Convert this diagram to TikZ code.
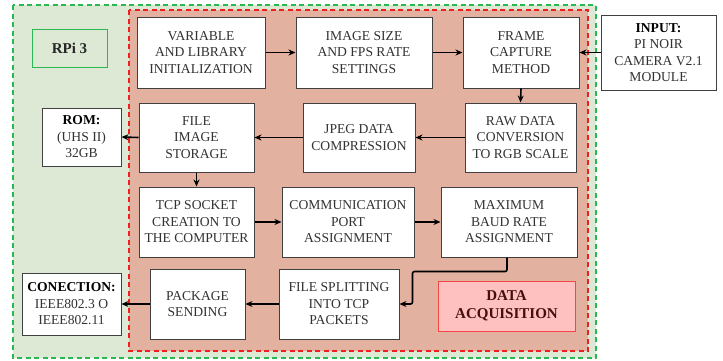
\documentclass[tikz,border=0pt]{standalone}
\usepackage{fontspec}
\setmainfont{Liberation Serif}
\usetikzlibrary{arrows.meta,calc}
\definecolor{gfill}{RGB}{221,233,212}
\definecolor{gline}{RGB}{40,185,80}
\definecolor{rline}{RGB}{240,30,30}
\definecolor{sfill}{RGB}{226,177,160}
\definecolor{dfill}{RGB}{255,192,192}
\definecolor{dline}{RGB}{245,70,70}
\definecolor{txt}{RGB}{50,50,50}
\begin{document}
\begin{tikzpicture}[x=1pt,y=-1pt,
  box/.style={draw=black!75,line width=1pt,fill=white,align=center,inner sep=1pt,
    font=\fontsize{13.6}{16.5}\selectfont,text=txt},
  arr/.style={-{Stealth[length=7pt,width=6pt]},line width=1.6pt,black},
]
\useasboundingbox (0,0) rectangle (723,360);
\fill[white] (0,0) rectangle (723,360);
% outer RPi area
\draw[gline,fill=gfill,line width=1.5pt,dash pattern=on 5pt off 3.5pt] (13,5) rectangle (596,358);
% data acquisition area
\draw[rline,fill=sfill,line width=1.5pt,dash pattern=on 5pt off 3.5pt] (129,10) rectangle (588,351);
% RPi label
\node[draw=gline,fill=gfill,line width=1pt,minimum width=75pt,minimum height=38pt,
  font=\fontsize{15}{18}\selectfont\bfseries,text=black!85] (rpi) at (69.5,48) {RPi 3};
% boxes
\node[box,minimum width=128pt,minimum height=71pt] (var) at (201,52.5) {VARIABLE\\AND LIBRARY\\INITIALIZATION};
\node[box,minimum width=136pt,minimum height=71pt] (img) at (364,52.5) {IMAGE SIZE\\AND FPS RATE\\SETTINGS};
\node[box,minimum width=116pt,minimum height=71pt] (frame) at (521,52.5) {FRAME\\CAPTURE\\METHOD};
\node[box,minimum width=115pt,minimum height=75pt] (input) at (658.5,52.5) {\textbf{\textcolor{black}{INPUT:}}\\PI NOIR\\CAMERA V2.1\\MODULE};
\node[box,minimum width=79pt,minimum height=58pt] (rom) at (81.5,137) {\textbf{\textcolor{black}{ROM:}}\\(UHS II)\\32GB};
\node[box,minimum width=115pt,minimum height=69pt] (fis) at (196.5,137.5) {FILE\\IMAGE\\STORAGE};
\node[box,minimum width=112pt,minimum height=69pt] (jpeg) at (359,137.5) {JPEG DATA\\COMPRESSION};
\node[box,minimum width=111pt,minimum height=69pt] (raw) at (520.5,137.5) {RAW DATA\\CONVERSION\\TO RGB SCALE};
\node[box,minimum width=115pt,minimum height=70pt] (tcp) at (196.5,222) {TCP SOCKET\\CREATION TO\\THE COMPUTER};
\node[box,minimum width=132pt,minimum height=70pt] (comm) at (348,222) {COMMUNICATION\\PORT\\ASSIGNMENT};
\node[box,minimum width=136pt,minimum height=70pt] (max) at (509,222) {MAXIMUM\\BAUD RATE\\ASSIGNMENT};
\node[box,minimum width=99pt,minimum height=62pt] (con) at (71.5,304) {\textbf{\textcolor{black}{CONECTION:}}\\IEEE802.3 O\\IEEE802.11};
\node[box,minimum width=95pt,minimum height=70pt] (pack) at (197.5,304) {PACKAGE\\SENDING};
\node[box,minimum width=120pt,minimum height=70pt] (split) at (339,304) {FILE SPLITTING\\INTO TCP\\PACKETS};
\node[draw=dline,fill=dfill,line width=1pt,minimum width=137pt,minimum height=50pt,align=center,
  font=\fontsize{15}{18}\selectfont\bfseries,text={rgb,255:red,70;green,15;blue,15}] (daq) at (506.5,306) {DATA\\ACQUISITION};
% connectors
\draw[arr] (var.east) -- (img.west);
\draw[arr] (img.east) -- (frame.west);
\draw[arr] (input.west) -- (frame.east);
\draw[arr] (frame.south) -- (raw.north);
\draw[arr] (raw.west) -- (jpeg.east);
\draw[arr] (jpeg.west) -- (fis.east);
\draw[arr] (fis.west) -- (rom.east);
\draw[arr] (fis.south) -- (tcp.north);
\draw[arr] (tcp.east) -- (comm.west);
\draw[arr] (comm.east) -- (max.west);
\draw[arr,rounded corners=2pt] ([xshift=-2pt]max.south) -- ++(0,14) -| ([xshift=13pt]split.east) -- (split.east);
\draw[arr] (split.west) -- (pack.east);
\draw[arr] (pack.west) -- (con.east);
\end{tikzpicture}
\end{document}
